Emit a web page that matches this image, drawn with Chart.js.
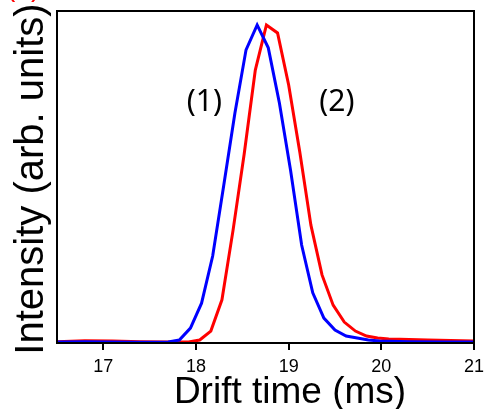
<!DOCTYPE html>
<html>
<head>
<meta charset="utf-8">
<script src="https://cdn.jsdelivr.net/npm/chart.js@4"></script>
<style>
  body { margin: 0; background: #fff; }
</style>
</head>
<body>
<canvas id="myChart" width="485" height="409"></canvas>
<script>
// drift time (ms) and intensity
const timesBlue = [16.5, 16.8, 17.1, 17.4, 17.70, 17.82, 17.94, 18.06, 18.18, 18.30, 18.42, 18.54, 18.66,
    18.78, 18.90, 19.02, 19.14, 19.26, 19.38, 19.50, 19.62, 19.74, 19.86, 19.98, 20.3, 20.7, 21.0]
const intensityBlue = [0.003, 0.004, 0.003, 0.002, 0.003, 0.009, 0.045, 0.120, 0.262, 0.476, 0.693, 0.883, 0.958,
    0.889, 0.723, 0.521, 0.295, 0.151, 0.075, 0.039, 0.021, 0.015, 0.009, 0.006, 0.004, 0.003, 0.003]

const timesRed = [16.5, 16.8, 17.1, 17.4, 17.7, 17.92, 18.04, 18.16, 18.28, 18.40, 18.52, 18.64, 18.76,
    18.88, 19.00, 19.12, 19.24, 19.36, 19.48, 19.60, 19.72, 19.84, 19.96, 20.08, 20.20, 20.5, 21.0]
const intensityRed = [0.004, 0.007, 0.006, 0.004, 0.003, 0.003, 0.009, 0.036, 0.130, 0.340, 0.569, 0.822, 0.958,
    0.934, 0.777, 0.575, 0.355, 0.205, 0.114, 0.063, 0.036, 0.021, 0.015, 0.012, 0.011, 0.009, 0.006]

const xTicks = [17, 18, 19, 20, 21]
const labels = [
    {text: '(1)', x: 18.09, y: 0.726},
    {text: '(2)', x: 19.52, y: 0.726},
]

const toPoints = (xs, ys) => xs.map((x, i) => ({x: x, y: ys[i]}))

const data = {
    datasets: [{
        label: '(1)',
        borderColor: 'rgb(0, 0, 255)',
        data: toPoints(timesBlue, intensityBlue),
    }, {
        label: '(2)',
        borderColor: 'rgb(255, 0, 0)',
        data: toPoints(timesRed, intensityRed),
    }]
};

// frame, axis titles and peak labels
const decor = {
    id: 'decor',
    afterDraw(chart) {
        const ctx = chart.ctx
        const a = chart.chartArea
        const sx = chart.scales.x, sy = chart.scales.y
        ctx.save()
        ctx.strokeStyle = '#000'
        ctx.lineWidth = 2
        ctx.strokeRect(a.left, a.top, a.right - a.left, a.bottom - a.top)

        ctx.fillStyle = '#000'
        ctx.font = '30px "Noto Sans"'
        ctx.textAlign = 'center'
        ctx.textBaseline = 'middle'
        labels.forEach((l) => {
            ctx.fillText(l.text, sx.getPixelForValue(l.x), sy.getPixelForValue(l.y))
        })

        ctx.font = '37px "Liberation Sans", Arial'
        ctx.textBaseline = 'alphabetic'
        ctx.fillText('Drift time (ms)', 290, 403)

        ctx.save()
        ctx.translate(43, 179)
        ctx.rotate(-Math.PI / 2)
        ctx.font = '40px "Liberation Sans", Arial'
        ctx.fillText('Intensity (arb. units)', 0, 0)
        ctx.restore()

        ctx.fillStyle = 'rgb(255, 0, 0)'
        ctx.textAlign = 'left'
        ctx.font = '28px "Liberation Sans", Arial'
        ctx.fillText('(a)', 6, -4)
        ctx.restore()
    }
}

const config = {
    type: 'line',
    data: data,
    options: {
        responsive: false,
        animation: false,
        layout: {padding: {left: 57, top: 11, right: 11, bottom: 0}},
        elements: {
            line: {borderWidth: 3, tension: 0},
            point: {radius: 0}
        },
        plugins: {
            legend: {display: false},
            tooltip: {enabled: false}
        },
        scales: {
            x: {
                type: 'linear',
                min: 16.5,
                max: 21,
                afterBuildTicks: (scale) => { scale.ticks = xTicks.map((v) => ({value: v})) },
                afterFit: (scale) => {
                    scale.height = 66
                    scale.paddingLeft = 0
                    scale.paddingRight = 0
                },
                grid: {drawOnChartArea: false, drawTicks: true, tickLength: 7, color: '#000', lineWidth: 2},
                border: {display: true, color: '#000', width: 2},
                ticks: {color: '#000', font: {size: 18, family: '"Liberation Sans", Arial'}, padding: 6, maxRotation: 0}
            },
            y: {
                display: false,
                min: 0,
                max: 1
            }
        }
    },
    plugins: [decor]
};

new Chart(
    document.getElementById('myChart'),
    config
);
</script>
</body>
</html>
